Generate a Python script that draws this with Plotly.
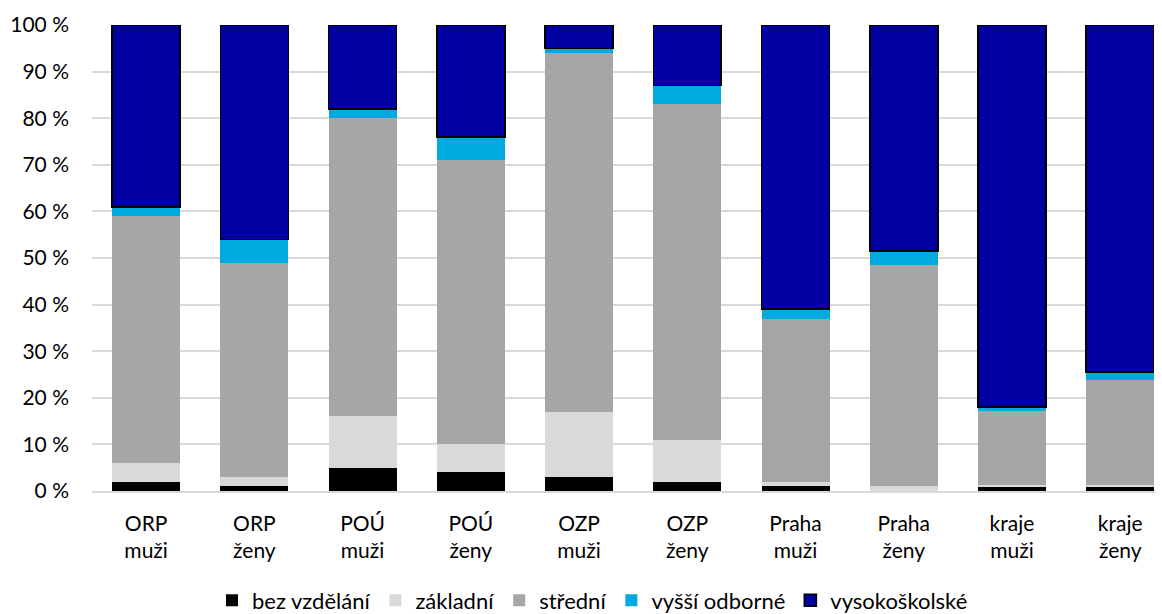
import plotly.graph_objects as go

categories = ["ORP<br>muži", "ORP<br>ženy", "POÚ<br>muži", "POÚ<br>ženy", "OZP<br>muži",
              "OZP<br>ženy", "Praha<br>muži", "Praha<br>ženy", "kraje<br>muži", "kraje<br>ženy"]

bez_vzdelani = [2, 1, 5, 4, 3, 2, 1, 0, 1, 1]
zakladni = [4, 2, 11, 6, 14, 9, 1, 1, 0.3, 0.3]
stredni = [53, 46, 64, 61, 77, 72, 35, 47.5, 15.9, 22.5]
vyssi_odborne = [2, 5, 2, 5, 1, 4, 2, 3, 0.8, 1.7]
vysokoskolske = [39, 46, 18, 24, 5, 13, 61, 48.5, 82, 74.5]

series = [
    ("bez vzdělání", bez_vzdelani, "#000000", None),
    ("základní", zakladni, "#d9d9d9", None),
    ("střední", stredni, "#a6a6a6", None),
    ("vyšší odborné", vyssi_odborne, "#00a9e0", None),
    ("vysokoškolské", vysokoskolske, "#0000a3", "#000000"),
]

fig = go.Figure()
for name, vals, color, lc in series:
    fig.add_trace(go.Bar(
        name=name, x=categories, y=vals,
        marker=dict(color=color,
                    line=dict(color=lc if lc else color, width=1.6 if lc else 0)),
    ))

fig.update_layout(
    barmode="stack",
    bargap=0.372,
    width=1162, height=614,
    margin=dict(l=84, r=0, t=17, b=131, autoexpand=False),
    paper_bgcolor="white", plot_bgcolor="white",
    font=dict(family="Lato, Liberation Sans, sans-serif", size=21, color="#000000"),
    legend=dict(orientation="h", x=0.503, xanchor="center", xref="container",
                y=0.035, yanchor="middle", yref="container",
                traceorder="normal", font=dict(size=22), itemwidth=30),
    showlegend=True,
)
fig.update_yaxes(range=[0, 100], dtick=10, ticksuffix=" %", showgrid=True,
                 gridcolor="#d9d9d9", gridwidth=1.5, zeroline=False, ticks="",
                 showline=False, automargin=False, ticklabelstandoff=22)
fig.update_xaxes(range=[-0.5, 9.46], showline=True, linecolor="#d9d9d9", linewidth=1.5,
                 ticks="", automargin=False, ticklabelstandoff=13)

fig.write_html("out.html")
